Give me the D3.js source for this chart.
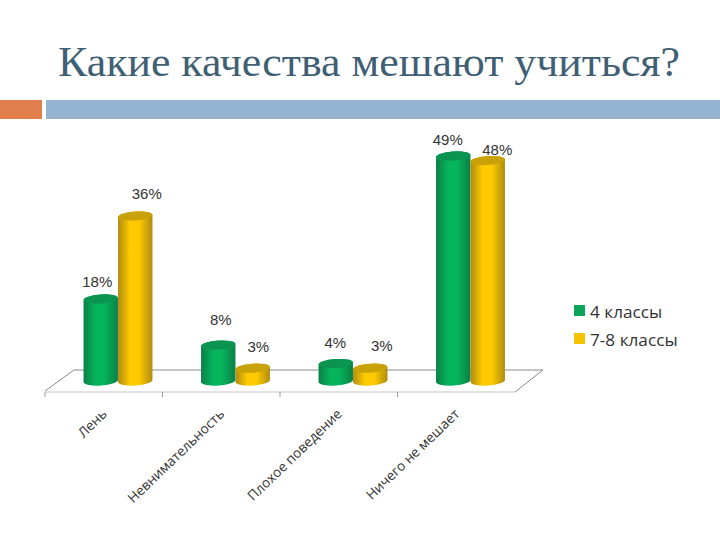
<!DOCTYPE html>
<html><head><meta charset="utf-8">
<script src="https://cdn.jsdelivr.net/npm/d3@7/dist/d3.min.js"></script>
<style>html,body{margin:0;padding:0;background:#fff}svg{display:block}</style>
</head><body><svg id="c" width="720" height="540"></svg>
<script>
const titleText = "Какие качества мешают учиться?";
const categories = ["Лень","Невнимательность","Плохое поведение","Ничего не мешает"];
const seriesNames = ["4 классы","7-8 классы"];
const grade4 = [18,8,4,49];
const grade78 = [36,3,3,48];
const labelDx = [[-4,2,-1,-6],[11,5,11,9]];
const labelDy = [[17,25,21,16],[22,21,22,11]];
const palette = [
 {edge:"#0a8046",mid:"#06b45c",top:"#0b9450",key:"#0aa558"},
 {edge:"#b08c10",mid:"#ffcb00",top:"#c8a208",key:"#f5c400"}
];
const svg = d3.select("#c");
const defs = svg.append("defs");
palette.forEach((p,i)=>{
  const g = defs.append("linearGradient").attr("id","g"+i).attr("x1",0).attr("x2",1).attr("y1",0).attr("y2",0);
  [[0,p.edge],[0.35,p.mid],[0.6,p.mid],[1,p.edge]].forEach(s=>g.append("stop").attr("offset",s[0]).attr("stop-color",s[1]));
});
// header
svg.append("text").attr("x",58).attr("y",76)
  .attr("font-family","Liberation Serif").attr("font-size",42).attr("fill","#3f5f75")
  .attr("textLength",622).attr("lengthAdjust","spacingAndGlyphs").text(titleText);
svg.append("rect").attr("x",0).attr("y",100).attr("width",42).attr("height",19).attr("fill","#e07f4c");
svg.append("rect").attr("x",46).attr("y",100).attr("width",674).attr("height",19).attr("fill","#94b4d1");

const x = d3.scaleBand().domain(categories).range([45,515]);
const inner = d3.scaleBand().domain([0,1]).range([39,108]);
const y = d3.scaleLinear().domain([0,49]).range([382,156]);
const floorBack = 370, floorFront = 392, depth = 28;

// floor
const floor = svg.append("g").attr("fill","none");
floor.append("line").attr("x1",45+depth+1).attr("x2",515+depth).attr("y1",floorBack).attr("y2",floorBack).attr("stroke","#8a8a8a");
floor.append("line").attr("x1",45).attr("x2",45+depth+1).attr("y1",floorFront-1).attr("y2",floorBack).attr("stroke","#8a8a8a");
floor.append("line").attr("x1",515).attr("x2",515+depth).attr("y1",floorFront).attr("y2",floorBack).attr("stroke","#8a8a8a");
floor.append("line").attr("x1",45).attr("x2",515).attr("y1",floorFront).attr("y2",floorFront).attr("stroke","#c4c4c4");
floor.selectAll(".t").data(categories).join("line")
  .attr("x1",d=>x(d)).attr("x2",d=>x(d)).attr("y1",floorFront).attr("y2",floorFront+5).attr("stroke","#999");

// cylinders
const rx = 17.2, ry = 4.5, tilt = 1.3, tiltDeg = -4, baseY = y(0)-1;
function body(cx,top){
  return `M${cx-rx},${top+tilt}L${cx-rx},${baseY+tilt}A${rx},${ry} ${tiltDeg} 0 0 ${cx+rx},${baseY-tilt}`+
         `L${cx+rx},${top-tilt}A${rx},${ry} ${tiltDeg} 0 0 ${cx-rx},${top+tilt}Z`;
}
[grade4,grade78].forEach((vals,s)=>{
  const g = svg.append("g");
  categories.forEach((c,i)=>{
    const cx = x(c)+inner(s)+inner.bandwidth()/2-0.5, top = y(vals[i]);
    g.append("path").attr("d",body(cx,top)).attr("fill",`url(#g${s})`);
    g.append("ellipse").attr("cx",cx).attr("cy",top).attr("rx",rx).attr("ry",ry)
      .attr("transform",`rotate(${tiltDeg} ${cx} ${top})`).attr("fill",palette[s].top);
  });
});
// data labels
[grade4,grade78].forEach((vals,s)=>{
  categories.forEach((c,i)=>{
    const cx = x(c)+inner(s)+inner.bandwidth()/2;
    svg.append("text").attr("x",cx+labelDx[s][i]).attr("y",y(vals[i])-labelDy[s][i]+5)
      .attr("text-anchor","middle").attr("font-family","Liberation Sans").attr("font-size",15)
      .attr("fill","#333").text(vals[i]+"%");
  });
});
// category labels
categories.forEach(c=>{
  const px = x(c)+x.bandwidth()/2+4;
  svg.append("text").attr("transform",`translate(${px},${415}) rotate(-44)`)
    .attr("text-anchor","end").attr("font-family","Open Sans").attr("font-size",13.6)
    .attr("fill","#333").text(c);
});
// legend
seriesNames.forEach((n,i)=>{
  const ly = 311+i*28;
  svg.append("rect").attr("x",574).attr("y",ly-6).attr("width",11).attr("height",11).attr("fill",palette[i].key);
  svg.append("text").attr("x",590).attr("y",ly+7).attr("font-family","Open Sans").attr("font-size",17.2)
    .attr("fill","#333").text(n);
});
</script></body></html>
